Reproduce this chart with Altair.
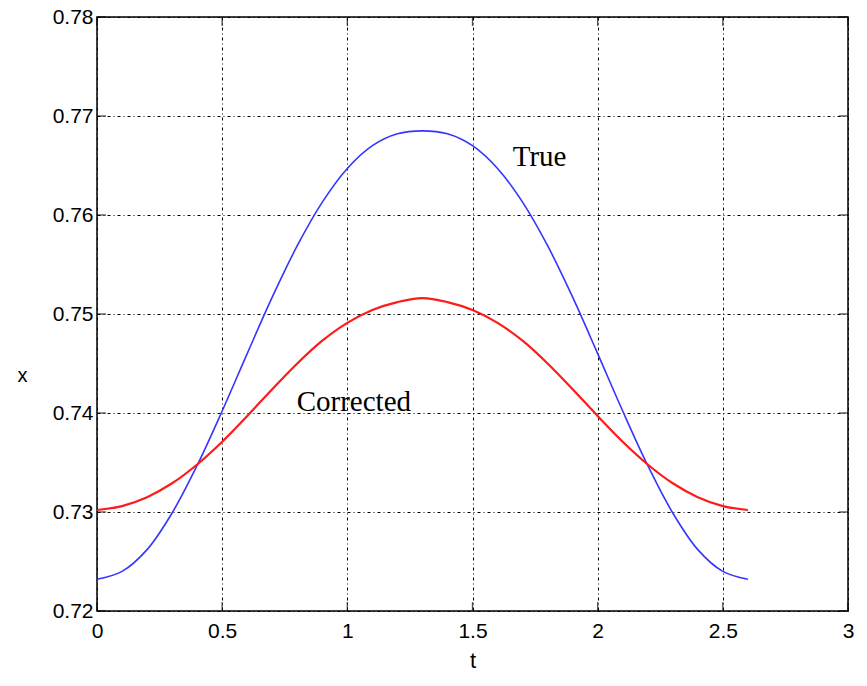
import altair as alt
import pandas as pd

# ---- data ----
t_vals = [0.0, 0.1, 0.2, 0.3, 0.4, 0.5, 0.6, 0.7, 0.8, 0.9, 1.0, 1.1, 1.2, 1.3,
          1.4, 1.5, 1.6, 1.7, 1.8, 1.9, 2.0, 2.1, 2.2, 2.3, 2.4, 2.5, 2.6]
true_vals = [0.7232, 0.7240, 0.7262, 0.7299, 0.7347, 0.7402, 0.7460, 0.7517, 0.7569,
             0.7613, 0.7647, 0.7670, 0.7682, 0.7685, 0.7682, 0.7670, 0.7647, 0.7613,
             0.7569, 0.7517, 0.7460, 0.7402, 0.7347, 0.7299, 0.7262, 0.7240, 0.7232]
corrected_vals = [0.7302, 0.7306, 0.7315, 0.7329, 0.7348, 0.7371, 0.7397, 0.7424, 0.7450,
                  0.7473, 0.7491, 0.7504, 0.7512, 0.7516, 0.7512, 0.7504, 0.7491, 0.7473,
                  0.7450, 0.7424, 0.7397, 0.7371, 0.7348, 0.7329, 0.7315, 0.7306, 0.7302]

label_text = ["True", "Corrected"]
label_t = [1.768, 1.026]
label_x = [0.7659, 0.7411]

x_ticks = [0, 0.5, 1, 1.5, 2, 2.5, 3]
y_ticks = [0.72, 0.73, 0.74, 0.75, 0.76, 0.77, 0.78]

W, H = 751, 594
TICK = 9

df_true = pd.DataFrame({"t": t_vals, "x": true_vals})
df_corr = pd.DataFrame({"t": t_vals, "x": corrected_vals})
df_lab = pd.DataFrame({"label": label_text, "t": label_t, "x": label_x})
df_xt = pd.DataFrame({"t": x_ticks})
df_yt = pd.DataFrame({"x": y_ticks})

xscale = alt.Scale(domain=[0, 3], nice=False, zero=False)
yscale = alt.Scale(domain=[0.72, 0.78], nice=False, zero=False)

xaxis = alt.Axis(values=x_ticks, format="~g", ticks=False, domain=False,
                 labelFont="Liberation Sans", labelFontSize=21, labelColor="black",
                 labelPadding=9, title="t", titleFont="Liberation Sans",
                 titleFontSize=22, titleFontWeight="normal", titleColor="black",
                 titleY=49, titleBaseline="middle",
                 grid=True, gridColor="black", gridOpacity=1, gridWidth=1,
                 gridDash=[3, 3, 1, 3], labelFlush=False)
yaxis = alt.Axis(values=y_ticks, format=".2f", ticks=False, domain=False,
                 labelFont="Liberation Sans", labelFontSize=21, labelColor="black",
                 labelPadding=4, title="x", titleFont="Liberation Sans",
                 titleFontSize=20, titleFontWeight="normal", titleColor="black",
                 titleAngle=0, titleX=-75, titleY=358, titleAlign="center",
                 titleBaseline="middle",
                 grid=True, gridColor="black", gridOpacity=1, gridWidth=1,
                 gridDash=[3, 3, 1, 3], labelFlush=False)

line_true = alt.Chart(df_true).mark_line(color="#3535ff", strokeWidth=1.6,
                                         interpolate="catmull-rom").encode(
    x=alt.X("t:Q", scale=xscale, axis=xaxis),
    y=alt.Y("x:Q", scale=yscale, axis=yaxis),
)
line_corr = alt.Chart(df_corr).mark_line(color="#ff1a1a", strokeWidth=2.2,
                                         interpolate="catmull-rom").encode(
    x=alt.X("t:Q", scale=xscale),
    y=alt.Y("x:Q", scale=yscale),
)
labels = alt.Chart(df_lab).mark_text(font="Liberation Serif", fontSize=29,
                                     color="black", align="center",
                                     baseline="middle").encode(
    x=alt.X("t:Q", scale=xscale),
    y=alt.Y("x:Q", scale=yscale),
    text="label:N",
)

ytick_left = alt.Chart(df_yt).mark_tick(orient="horizontal", size=TICK, thickness=1.3,
                                        color="black").encode(
    y=alt.Y("x:Q", scale=yscale), x=alt.value(TICK / 2))
ytick_right = alt.Chart(df_yt).mark_tick(orient="horizontal", size=TICK, thickness=1.3,
                                         color="black").encode(
    y=alt.Y("x:Q", scale=yscale), x=alt.value(W - TICK / 2))
xtick_bottom = alt.Chart(df_xt).mark_tick(orient="vertical", size=TICK, thickness=1.3,
                                          color="black").encode(
    x=alt.X("t:Q", scale=xscale), y=alt.value(H - TICK / 2))
xtick_top = alt.Chart(df_xt).mark_tick(orient="vertical", size=TICK, thickness=1.3,
                                       color="black").encode(
    x=alt.X("t:Q", scale=xscale), y=alt.value(TICK / 2))

chart = alt.layer(
    line_true, line_corr, labels, ytick_left, ytick_right, xtick_bottom, xtick_top
).properties(
    width=W, height=H,
    autosize=alt.AutoSizeParams(type="none"),
    padding={"left": 97, "top": 17, "right": 19, "bottom": 75},
    background="white",
).configure_view(
    stroke="black", strokeWidth=1.5
)

chart.save("out.html", embed_options={"renderer": "svg", "actions": False})
